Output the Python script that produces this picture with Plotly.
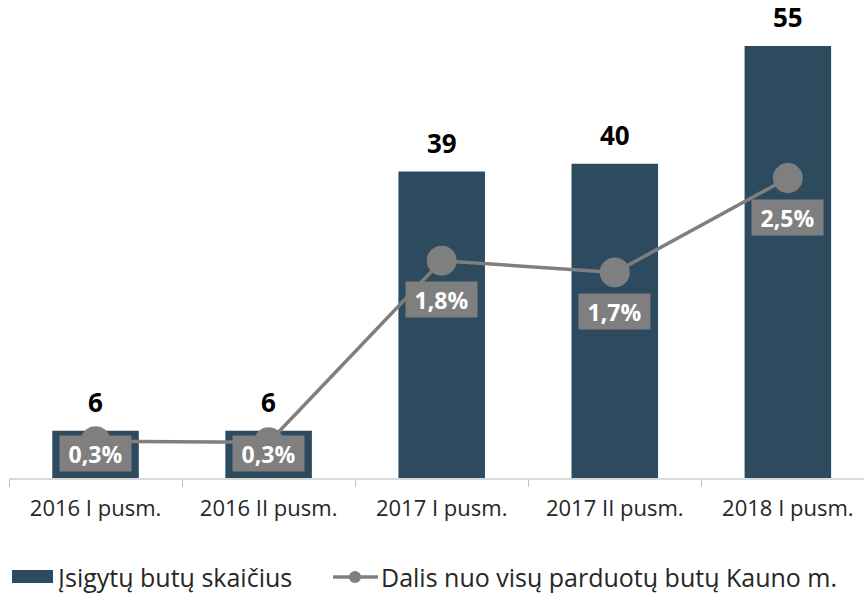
import plotly.graph_objects as go

# data
categories = ["2016 I pusm.", "2016 II pusm.", "2017 I pusm.", "2017 II pusm.", "2018 I pusm."]
bought = [6, 6, 39, 40, 55]
share = [0.27, 0.26, 1.8, 1.7, 2.5]
share_labels = ["0,3%", "0,3%", "1,8%", "1,7%", "2,5%"]

bar_name = "Įsigytų butų skaičius"
line_name = "Dalis nuo visų parduotų butų Kauno m."

BAR_COLOR = "#2d4a5e"
GREY = "#7f7f7f"
FONT = "Open Sans"

W, H = 864, 593
ML, MR, MT, MB = 9, 0, 20, 115
plot_w = W - ML - MR
plot_h = H - MT - MB
y1_range = [0, 58.3]
y2_range = [-0.042, 3.84]


def px_x(px):
    return (px - ML) / plot_w


def px_y(py):
    return (H - MB - py) / plot_h


def y2_to_px(v):
    return H - MB - (v - y2_range[0]) / (y2_range[1] - y2_range[0]) * plot_h


fig = go.Figure()
fig.add_trace(go.Bar(x=categories, y=bought, name=bar_name,
                     marker=dict(color=BAR_COLOR, line=dict(width=0)),
                     width=0.5, showlegend=False, hoverinfo="y"))
fig.add_trace(go.Scatter(x=categories, y=share, name=line_name, yaxis="y2",
                         mode="lines+markers",
                         line=dict(color=GREY, width=3.5),
                         marker=dict(color=GREY, size=30),
                         showlegend=False))

annotations = []
for c, v in zip(categories, bought):
    annotations.append(dict(x=c, y=v, xref="x", yref="y", text="<b>%d</b>" % v,
                            showarrow=False, yanchor="bottom", yshift=9,
                            font=dict(family=FONT, size=26, color="black")))

# percentage labels sit below the point, kept inside the plot above the axis
for c, v, t in zip(categories, share, share_labels):
    py = y2_to_px(v)
    centre = min(py + 39, H - MB - 24.5)
    annotations.append(dict(x=c, y=v, xref="x", yref="y2", text="<b>%s</b>" % t,
                            showarrow=False, yanchor="middle", yshift=-(centre - py),
                            bgcolor=GREY, borderpad=3, width=65, height=29,
                            font=dict(family=FONT, size=23, color="white")))

# hand drawn legend
shapes = [
    dict(type="rect", xref="paper", yref="paper",
         x0=px_x(12), x1=px_x(53), y0=px_y(583), y1=px_y(570),
         fillcolor=BAR_COLOR, line=dict(width=0)),
    dict(type="line", xref="paper", yref="paper",
         x0=px_x(333), x1=px_x(378), y0=px_y(577), y1=px_y(577),
         line=dict(color=GREY, width=3.5)),
    dict(type="circle", xref="paper", yref="paper",
         x0=px_x(349), x1=px_x(361), y0=px_y(583), y1=px_y(571),
         fillcolor=GREY, line=dict(width=0)),
]
annotations.append(dict(x=px_x(56), y=px_y(577), xref="paper", yref="paper",
                        text=bar_name, showarrow=False, xanchor="left", yanchor="middle",
                        font=dict(family=FONT, size=25, color="#262626")))
annotations.append(dict(x=px_x(379), y=px_y(577), xref="paper", yref="paper",
                        text=line_name, showarrow=False, xanchor="left", yanchor="middle",
                        font=dict(family=FONT, size=25, color="#262626")))

fig.update_layout(
    width=W, height=H,
    margin=dict(l=ML, r=MR, t=MT, b=MB),
    paper_bgcolor="white", plot_bgcolor="white",
    showlegend=False,
    annotations=annotations,
    shapes=shapes,
    xaxis=dict(type="category", range=[-0.5, 4.44], tickson="boundaries",
               ticks="outside", ticklen=7, tickcolor="#bfbfbf", tickwidth=1,
               ticklabelstandoff=10,
               showline=True, linecolor="#d9d9d9", linewidth=1.5,
               showgrid=False, tickfont=dict(family=FONT, size=22, color="#262626")),
    yaxis=dict(range=y1_range, visible=False, showgrid=False),
    yaxis2=dict(range=y2_range, overlaying="y", visible=False, showgrid=False),
)

# drop the page margin so the figure fills the window from its corner
fig.write_html("out.html", config={"displayModeBar": False},
               post_script="document.body.style.margin='0';")
